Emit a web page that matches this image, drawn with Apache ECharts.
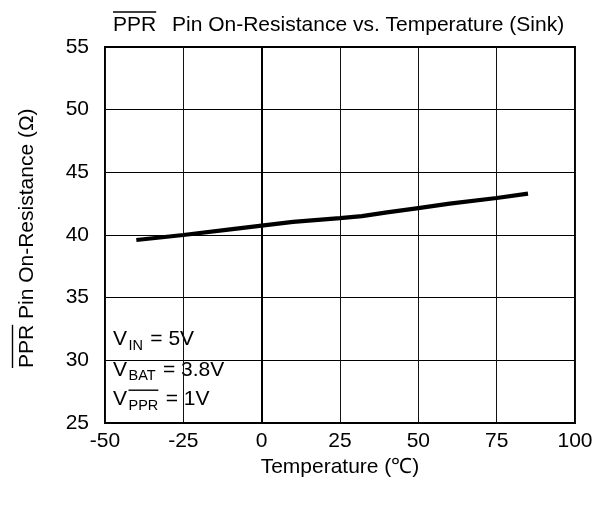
<!DOCTYPE html>
<html>
<head>
<meta charset="utf-8">
<script src="https://cdn.jsdelivr.net/npm/echarts@6/dist/echarts.min.js"></script>
<style>
  html, body { margin: 0; padding: 0; background: #fff; }
  #chart { width: 606px; height: 507px; }
</style>
</head>
<body>
<div id="chart"></div>
<script>
// On-resistance of the PPR pin (sink) versus temperature
const temperature  = [-40, -25, -10, 0, 10, 25, 32, 40, 50, 60, 75, 85];
const onResistance = [39.6, 40.0, 40.45, 40.75, 41.05, 41.35, 41.5, 41.8, 42.15, 42.5, 42.95, 43.3];

// Axis tick values
const xTicks = [-50, -25, 0, 25, 50, 75, 100];
const yTicks = [25, 30, 35, 40, 45, 50, 55];

// Test conditions: symbol, subscript, subscript overlined, value text
const condSymbol = ['V', 'V', 'V'];
const condSub    = ['IN', 'BAT', 'PPR'];
const condBar    = [false, false, true];
const condValue  = [' = 5V', ' = 3.8V', ' = 1V'];

const FONT = '"Liberation Sans", Arial, Helvetica, sans-serif';
const measureCtx = document.createElement('canvas').getContext('2d');
function textWidth(s, size) {
  measureCtx.font = size + 'px ' + FONT;
  return measureCtx.measureText(s).width;
}

const BIG = 21, SUB = 14.5, TICK = 21;
const GRID = { left: 105, right: 31, top: 47, bottom: 84 };

function txt(x, y, s, size, extra) {
  return Object.assign({
    type: 'text', x: x, y: y, silent: true,
    style: { text: s, font: size + 'px ' + FONT, fill: '#000', align: 'left', verticalAlign: 'middle' }
  }, extra || {});
}
function bar(x1, x2, y) {
  return { type: 'line', silent: true, shape: { x1: x1, y1: y, x2: x2, y2: y }, style: { stroke: '#000', lineWidth: 1.4 } };
}

// Title with overlined "PPR"
const titleX = 113, titleY = 25;
const wPPR = textWidth('PPR', BIG);
const titleEls = [
  txt(titleX, titleY, 'PPR', BIG),
  bar(titleX, titleX + wPPR, 12),
  txt(172, titleY, 'Pin On-Resistance vs. Temperature (Sink)', BIG)
];

// Rotated y-axis name with overlined "PPR"
const yName = 'PPR Pin On-Resistance (Ω)';
const yLen = textWidth(yName, BIG);
const yNameGroup = {
  type: 'group', x: 27, y: 368 - yLen / 2, rotation: Math.PI / 2,
  children: [
    txt(-yLen / 2, 0, 'PPR', BIG),
    bar(-yLen / 2, -yLen / 2 + wPPR, -14.5),
    txt(-yLen / 2 + textWidth('PPR ', BIG), 0, 'Pin On-Resistance (Ω)', BIG)
  ]
};

// Conditions box in the lower-left corner
const boxX = 113, boxTop = 325;
const condEls = [{
  type: 'rect', silent: true, shape: { x: boxX, y: boxTop, width: 117, height: 93 },
  style: { fill: '#fff' }
}];
const baselines = [346.7, 377.0, 406.7];
condSymbol.forEach(function (sym, i) {
  const base = baselines[i];
  let x = boxX;
  condEls.push(txt(x, base - 0.3465 * BIG, sym, BIG));
  x += textWidth(sym, BIG) + 1.5;
  const subBase = base + 4.5;
  condEls.push(txt(x, subBase - 0.3465 * SUB, condSub[i], SUB));
  if (condBar[i]) condEls.push(bar(x, x + textWidth(condSub[i], SUB), subBase - 21));
  x += textWidth(condSub[i], SUB) + 1.5;
  condEls.push(txt(x, base - 0.3465 * BIG, condValue[i], BIG));
});

const chart = echarts.init(document.getElementById('chart'), null, { renderer: 'canvas' });
chart.setOption({
  animation: false,
  backgroundColor: '#fff',
  textStyle: { fontFamily: FONT, color: '#000' },
  grid: Object.assign({ show: true, borderColor: '#000', borderWidth: 2, backgroundColor: 'transparent',
                        outerBoundsMode: 'none', containLabel: false }, GRID),
  xAxis: {
    type: 'value',
    min: xTicks[0], max: xTicks[xTicks.length - 1], interval: xTicks[1] - xTicks[0],
    name: 'Temperature (℃)', nameLocation: 'middle', nameGap: 34,
    nameTextStyle: { fontSize: BIG, color: '#000', fontFamily: FONT },
    axisLine: { show: true, lineStyle: { color: '#000', width: 2 } },
    axisTick: { show: false },
    axisLabel: { fontSize: TICK, color: '#000', fontFamily: FONT, margin: 8 },
    splitLine: { show: true, lineStyle: { color: '#111', width: 1 } }
  },
  yAxis: {
    type: 'value',
    min: yTicks[0], max: yTicks[yTicks.length - 1], interval: yTicks[1] - yTicks[0],
    axisLine: { show: true, lineStyle: { color: '#000', width: 2 } },
    axisTick: { show: false },
    axisLabel: { fontSize: TICK, color: '#000', fontFamily: FONT, margin: 16 },
    splitLine: { show: true, lineStyle: { color: '#000', width: 1 } }
  },
  graphic: { elements: titleEls.concat([yNameGroup]).concat(condEls) },
  series: [{
    type: 'line',
    data: temperature.map(function (t, i) { return [t, onResistance[i]]; }),
    showSymbol: false,
    lineStyle: { color: '#000', width: 4.2 },
    z: 3
  }]
});
</script>
</body>
</html>
